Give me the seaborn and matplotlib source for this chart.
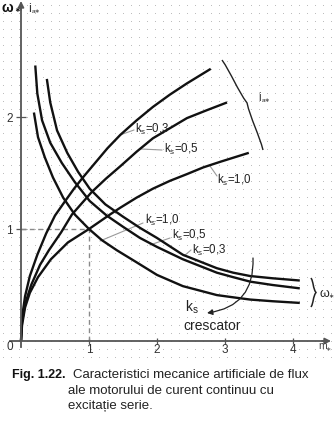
import numpy as np
import pandas as pd
import matplotlib
matplotlib.use("Agg")
import matplotlib.pyplot as plt
from matplotlib.path import Path
from matplotlib.patches import PathPatch, FancyArrowPatch
import seaborn as sns

# ---------------- data ----------------
# speed characteristics omega*(m*)
m_w_k03 = [0.38, 0.43, 0.53, 0.68, 0.84, 1.01, 1.24, 1.5, 1.75, 2.0, 2.38, 2.63, 2.88, 3.12, 3.37, 3.7, 4.1]
w_k03 = [2.34, 2.13, 1.88, 1.68, 1.51, 1.36, 1.22, 1.11, 1.01, 0.92, 0.77, 0.71, 0.65, 0.61, 0.58, 0.56, 0.54]
m_w_k05 = [0.21, 0.24, 0.31, 0.43, 0.6, 0.79, 1.01, 1.26, 1.5, 1.75, 2.0, 2.38, 2.63, 2.88, 3.12, 3.37, 3.7, 4.1]
w_k05 = [2.46, 2.21, 1.97, 1.77, 1.59, 1.42, 1.25, 1.12, 1.02, 0.92, 0.84, 0.73, 0.67, 0.61, 0.57, 0.53, 0.5, 0.47]
m_w_k10 = [0.19, 0.25, 0.35, 0.47, 0.62, 0.79, 1.0, 1.19, 1.41, 1.68, 2.0, 2.38, 2.63, 2.88, 3.12, 3.37, 3.7, 4.1]
w_k10 = [2.04, 1.82, 1.64, 1.46, 1.28, 1.13, 1.0, 0.9, 0.81, 0.71, 0.59, 0.49, 0.45, 0.41, 0.39, 0.37, 0.355, 0.34]
# current characteristics ia*(m*)
m_i_k03 = [0, 0.015, 0.06, 0.13, 0.24, 0.37, 0.5, 0.65, 0.78, 0.91, 1.09, 1.27, 1.46, 1.7, 1.94, 2.19, 2.44, 2.79]
i_k03 = [0, 0.21, 0.4, 0.58, 0.77, 0.96, 1.12, 1.25, 1.36, 1.46, 1.59, 1.72, 1.84, 1.97, 2.09, 2.2, 2.3, 2.43]
m_i_k05 = [0, 0.015, 0.06, 0.15, 0.28, 0.41, 0.59, 0.75, 1.04, 1.25, 1.46, 1.7, 1.94, 2.19, 2.44, 2.73, 3.03]
i_k05 = [0, 0.17, 0.33, 0.5, 0.68, 0.81, 0.97, 1.13, 1.33, 1.45, 1.56, 1.69, 1.81, 1.9, 1.99, 2.06, 2.13]
m_i_k10 = [0, 0.015, 0.06, 0.13, 0.25, 0.44, 0.69, 1.0, 1.31, 1.46, 1.7, 1.94, 2.19, 2.44, 2.68, 2.93, 3.14, 3.35]
i_k10 = [0, 0.14, 0.3, 0.43, 0.57, 0.73, 0.88, 1.0, 1.13, 1.19, 1.28, 1.36, 1.43, 1.49, 1.55, 1.6, 1.64, 1.68]

x_ticks = [1, 2, 3, 4]
y_ticks = [1, 2]
ks_values = ["0,3", "0,5", "1,0"]

# ---------------- layout helpers (pixel geometry) ----------------
W, H = 335, 428
X0, SX = 21, 68     # pixel of m*=0, pixels per unit
Y0, SY = 341, 112   # pixel of value 0, pixels per unit


def d(px, py):
    return ((px - X0) / SX, (Y0 - py) / SY)


def f(px, py):
    return (px / W, 1 - py / H)


sns.set_theme(style="white")
plt.rcParams["font.family"] = ["Liberation Sans", "DejaVu Sans"]
plt.rcParams["mathtext.fontset"] = "custom"
plt.rcParams["mathtext.rm"] = "Liberation Sans"
plt.rcParams["mathtext.it"] = "Liberation Sans"

fig = plt.figure(figsize=(W / 100, H / 100), dpi=100)
ax = fig.add_axes([0, 0, 1, 1])
ax.set_xlim(-X0 / SX, (W - X0) / SX)
ax.set_ylim((Y0 - H) / SY, Y0 / SY)
ax.set_facecolor("white")

# dotted background texture (dot lattice every 8 px)
for x in np.arange(3, W, 8):
    ax.plot([(x - X0) / SX] * 2, [d(0, 357)[1], d(0, 0)[1]], color="#bdbdbd",
            linewidth=1.0, linestyle=(0, (0.72, 5.04)), dash_capstyle="butt",
            zorder=0, antialiased=False)

# curves
rows = []
for name, mm, vv in [("w03", m_w_k03, w_k03), ("w05", m_w_k05, w_k05), ("w10", m_w_k10, w_k10),
                     ("i03", m_i_k03, i_k03), ("i05", m_i_k05, i_k05), ("i10", m_i_k10, i_k10)]:
    for a, b in zip(mm, vv):
        rows.append({"curve": name, "m": a, "v": b})
df = pd.DataFrame(rows)
for name, g in df.groupby("curve"):
    sns.lineplot(data=g, x="m", y="v", ax=ax, color="#111111", linewidth=1.7,
                 estimator=None, sort=False, legend=False, zorder=4,
                 solid_joinstyle="round", solid_capstyle="butt")

# dashed guide lines at (1, 1)
ax.plot([0, 1], [1, 1], color="#8a8a8a", lw=1.0, ls=(0, (3.5, 2.5)), zorder=3)
ax.plot([1, 1], [0, 1], color="#8a8a8a", lw=1.0, ls=(0, (3.5, 2.5)), zorder=3)

# axes
axc = "#555555"
for s in ["top", "right"]:
    ax.spines[s].set_visible(False)
ax.spines["left"].set_position(("data", 0))
ax.spines["bottom"].set_position(("data", 0))
ax.spines["left"].set_bounds(d(0, 347)[1], d(0, 8)[1])
ax.spines["bottom"].set_bounds(d(10, 0)[0], d(324, 0)[0])
for s in ["left", "bottom"]:
    ax.spines[s].set_color(axc)
    ax.spines[s].set_linewidth(1.3)
    ax.spines[s].set_zorder(5)
ax.annotate("", xy=d(21, 1), xytext=d(21, 10),
            arrowprops=dict(arrowstyle="-|>", color=axc, lw=1.2, mutation_scale=9,
                            shrinkA=0, shrinkB=0), zorder=5)
ax.annotate("", xy=d(331, 341), xytext=d(322, 341),
            arrowprops=dict(arrowstyle="-|>", color=axc, lw=1.2, mutation_scale=9,
                            shrinkA=0, shrinkB=0), zorder=5)
ax.set_xticks(x_ticks)
ax.set_xticklabels([str(t) for t in x_ticks])
ax.set_yticks(y_ticks)
ax.set_yticklabels([str(t) for t in y_ticks])
ax.tick_params(axis="x", bottom=True, direction="inout", length=4, width=0.9, color=axc,
               labelsize=8.5, labelcolor="#333333", pad=0.5)
ax.tick_params(axis="y", left=True, direction="inout", length=7, width=0.9, color=axc,
               labelsize=8.5, labelcolor="#333333", pad=2.5)
ax.set_xlabel("")
ax.set_ylabel("")
fig.text(*f(10, 347), "0", fontsize=8.5, color="#333333", ha="center", va="center")

# axis names
fig.text(*f(2, 12), "ω", fontsize=10, fontweight="bold", color="#111111", ha="left", va="baseline")
fig.text(*f(14, 12), "∗", fontsize=5, fontweight="bold", color="#111111", ha="left", va="baseline")
fig.text(*f(28, 12), "i", fontsize=9, color="#333333", ha="left", va="baseline")
fig.text(*f(31.5, 13), "a∗", fontsize=4.5, color="#333333", ha="left", va="baseline")
fig.text(*f(318, 349), "m", fontsize=7.5, color="#444444", ha="left", va="baseline")
fig.text(*f(325.5, 351), "∗", fontsize=4.5, color="#444444", ha="left", va="baseline")

# curve labels with leader lines
lead = "#9a9a9a"


def ks_label(px, pby, val, leader, fs=8.3):
    fig.text(*f(px, pby), r"k$_{\rm s}$=" + val, fontsize=fs, color="#222222",
             ha="left", va="baseline")
    (x1, y1), (x2, y2) = leader
    ax.plot([d(x1, y1)[0], d(x2, y2)[0]], [d(x1, y1)[1], d(x2, y2)[1]],
            color=lead, lw=0.8, zorder=3)


ks_label(135, 133, ks_values[0], ((120, 135), (134, 130)))
ks_label(164, 153, ks_values[1], ((141, 149), (162, 150)))
ks_label(217, 184, ks_values[2], ((210, 166), (217, 176)))
ks_label(145, 224, ks_values[2], ((100, 241), (143, 223)))
ks_label(172, 239, ks_values[1], ((150, 245), (170, 238)))
ks_label(192, 254, ks_values[0], ((184, 256), (191, 250)))

# braces


def brace(p0, p1, width, lw=1.0):
    p0 = np.array(p0, float)
    p1 = np.array(p1, float)
    L = np.linalg.norm(p1 - p0)
    u = (p1 - p0) / L
    n = np.array([-u[1], u[0]])
    if n[0] < 0:
        n = -n
    loc = [(0, 0), (0.15, 0.55), (0.35, 0.35), (0.5, 1.0),
           (0.65, 0.35), (0.85, 0.55), (1.0, 0)]
    pts = [p0 + u * s * L + n * w * width for s, w in loc]
    pts = [d(*p) for p in pts]
    codes = [Path.MOVETO, Path.CURVE4, Path.CURVE4, Path.CURVE4,
             Path.CURVE4, Path.CURVE4, Path.CURVE4]
    ax.add_patch(PathPatch(Path(pts, codes), fill=False, lw=lw, color="#222222", zorder=5))


brace((222, 60), (263, 150), 5.0, lw=1.0)
fig.text(*f(258, 101), "i", fontsize=8.5, color="#333333", ha="left", va="baseline")
fig.text(*f(261.5, 102), "a∗", fontsize=4.5, color="#333333", ha="left", va="baseline")

brace((311, 278), (311, 307), 5.0, lw=1.1)
fig.text(*f(320, 297), "ω", fontsize=9, color="#222222", ha="left", va="baseline")
fig.text(*f(328.5, 298), "∗", fontsize=4.5, color="#222222", ha="left", va="baseline")

# k_s increasing arrow
arr = FancyArrowPatch(d(253, 258), d(207, 313), connectionstyle="arc3,rad=-0.45",
                      arrowstyle="-|>", mutation_scale=8, lw=0.9, color="#222222",
                      shrinkA=0, shrinkB=0, zorder=5)
ax.add_patch(arr)
fig.text(*f(185, 312), r"k$_{\rm s}$", fontsize=10, color="#222222", ha="left", va="baseline")
fig.text(*f(183, 330), "crescator", fontsize=10, color="#222222", ha="left", va="baseline")

# caption
fig.text(*f(12, 378), "Fig. 1.22.", fontsize=9.0, fontweight="bold", color="#111111",
         ha="left", va="baseline")
fig.text(*f(73, 378), "Caracteristici mecanice artificiale de flux", fontsize=9.5,
         color="#222222", ha="left", va="baseline")
fig.text(*f(68, 394), "ale motorului de curent continuu cu", fontsize=9.5,
         color="#222222", ha="left", va="baseline")
fig.text(*f(68, 409), "excitație serie.", fontsize=9.5, color="#222222",
         ha="left", va="baseline")

fig.savefig("out.png", dpi=100)
